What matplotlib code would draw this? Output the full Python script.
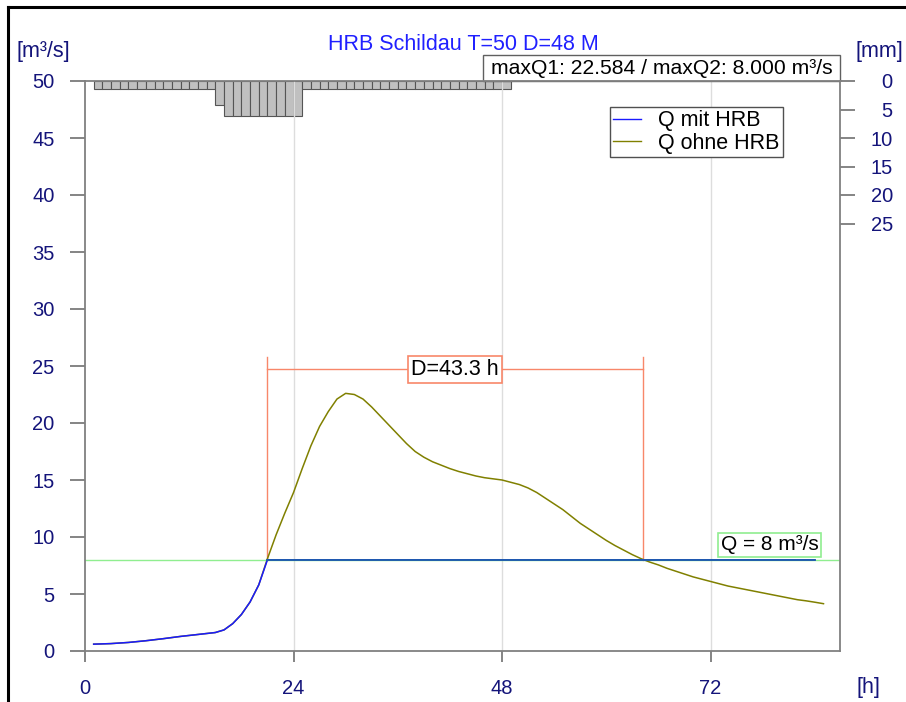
import matplotlib.pyplot as plt
import numpy as np
from matplotlib.lines import Line2D
from matplotlib.patches import Rectangle

# hydrograph
hours = [1, 3, 5, 7, 9, 11, 13, 15, 16, 17, 18, 19, 20, 21, 22, 23, 24, 25, 26, 27,
         28, 29, 30, 31, 32, 33, 34, 35, 36, 37, 38, 39, 40, 41, 42, 43, 44, 45, 46,
         47, 48, 49, 50, 51, 52, 53, 54, 55, 56, 57, 58, 59, 60, 61, 62, 63, 64, 65,
         66, 67, 68, 69, 70, 71, 72, 73, 74, 75, 76, 77, 78, 79, 80, 81, 82, 83, 84, 85]
q_ohne = [0.6, 0.65, 0.75, 0.9, 1.08, 1.28, 1.45, 1.62, 1.85, 2.4, 3.2, 4.3, 5.8, 8.1,
          10.2, 12.1, 13.9, 16.0, 18.0, 19.7, 21.0, 22.1, 22.6, 22.5, 22.1, 21.4, 20.6,
          19.8, 19.0, 18.2, 17.5, 17.0, 16.6, 16.3, 16.0, 15.75, 15.55, 15.35, 15.2,
          15.1, 15.0, 14.8, 14.6, 14.3, 13.9, 13.4, 12.9, 12.4, 11.8, 11.2, 10.7, 10.2,
          9.7, 9.25, 8.85, 8.45, 8.1, 7.8, 7.55, 7.25, 7.0, 6.75, 6.5, 6.3, 6.1, 5.9,
          5.7, 5.55, 5.4, 5.25, 5.1, 4.95, 4.8, 4.65, 4.5, 4.4, 4.28, 4.15]
q_max2 = 8.0
q_max1 = 22.584
d_start = 20.9
d_end = 64.2

# rainfall per hour [mm], hours 1..48
rain_start = list(range(1, 49))
rain_mm = [1.4] * 14 + [4.2] + [6.1] * 9 + [1.4] * 24

hours = np.array(hours)
q_ohne = np.array(q_ohne)
# with the basin: follows the inflow until the throttle, then held at maxQ2
q_mit = np.where(hours < d_start, q_ohne, q_max2)[:-1]
h_mit = hours[:-1]

navy = "#14147a"
fs = 14.5
plt.rcParams["font.family"] = ["Liberation Sans", "DejaVu Sans"]

fig = plt.figure(figsize=(9.06, 7.02), dpi=100)
ax = fig.add_axes([85 / 906, 1 - 651 / 702, 755 / 906, 570 / 702])

for x in [24, 48, 72]:
    ax.axvline(x, color="#dddddd", lw=1, zorder=0)

ax.plot(hours, q_ohne, color="#808000", lw=1.1, zorder=3)
ax.axhline(q_max2, color="#90ee90", lw=1, zorder=2)
ax.plot(h_mit, q_mit, color="#1a1aff", lw=1.1, zorder=4)
flat = np.ma.masked_less(q_mit, q_max2 - 0.01)
ax.plot(h_mit, flat, color="#1f5fa8", lw=1.3, zorder=5)

# duration marker
dc = "#f8876a"
ax.plot([d_start, d_start], [q_max2, 25.8], color=dc, lw=1, zorder=2)
ax.plot([d_end, d_end], [q_max2, 25.8], color=dc, lw=1, zorder=2)
ax.plot([d_start, d_end], [24.7, 24.7], color=dc, lw=1, zorder=2)
ax.text((d_start + d_end) / 2, 24.7, f"D={d_end - d_start:.1f} h", fontsize=15.5,
        ha="center", va="center", zorder=6,
        bbox=dict(boxstyle="square,pad=0.15", fc="white", ec=dc, lw=1.2))

ax.text(78.8, 9.3, f"Q = {q_max2:g} m³/s", fontsize=15, ha="center", va="center",
        zorder=6, bbox=dict(boxstyle="square,pad=0.12", fc="white", ec="#90ee90", lw=1.2))

ax.set_xlim(0, 86.9)
ax.set_ylim(0, 50)
ax.set_xticks([0, 24, 48, 72])
ax.set_yticks(np.arange(0, 51, 5))
ax.tick_params(axis="both", direction="out", colors="#707070", labelcolor=navy,
               labelsize=fs, width=1.2)
ax.tick_params(axis="y", length=11, pad=11)
ax.tick_params(axis="x", length=8, pad=12)
for s in ax.spines.values():
    s.set_color("#808080")
    s.set_linewidth(1.3)

h1, = ax.plot([], [], color="#1a1aff", lw=1)
h2, = ax.plot([], [], color="#808000", lw=1)
leg = ax.legend([h1, h2], ["Q mit HRB", "Q ohne HRB"], loc="upper right",
                bbox_to_anchor=(0.9245, 0.954), borderaxespad=0, fontsize=15.5,
                fancybox=False, framealpha=1, edgecolor="#505050",
                handlelength=1.3, handletextpad=0.8, borderpad=0.15,
                labelspacing=0.05)
leg.get_frame().set_linewidth(1)

# rainfall on the right axis
ax2 = ax.twinx()
ax2.bar(rain_start, rain_mm, width=1, align="edge", color="#c0c0c0",
        edgecolor="#555555", lw=0.8, zorder=3)
ax2.set_ylim(100, 0)
ax2.set_yticks([0, 5, 10, 15, 20, 25])
ax2.tick_params(axis="y", direction="out", colors="#707070", labelcolor=navy,
                labelsize=fs, length=11, width=1.2, pad=27)
for lab in ax2.get_yticklabels():
    lab.set_horizontalalignment("right")
for s in ax2.spines.values():
    s.set_visible(False)
ax.set_zorder(ax2.get_zorder() + 1)
ax.patch.set_visible(False)

# maxQ box above the plot
ax.add_patch(Rectangle((0.527, 1.0), 0.473, 0.0456, transform=ax.transAxes,
                       fc="white", ec="#606060", lw=1, clip_on=False))
ax.text(0.7635, 1.0228, f"maxQ1: {q_max1:.3f} / maxQ2: {q_max2:.3f} m³/s",
        transform=ax.transAxes, fontsize=15.2, ha="center", va="center")

fig.text(463 / 906, 1 - 44 / 702, "HRB Schildau T=50 D=48 M", color="#2020ff",
         fontsize=15.5, ha="center", va="center")
fig.text(43 / 906, 1 - 52 / 702, "[m³/s]", color=navy, fontsize=15.5,
         ha="center", va="center")
fig.text(879 / 906, 1 - 52 / 702, "[mm]", color=navy, fontsize=15.5,
         ha="center", va="center")
fig.text(868 / 906, 1 - 688 / 702, "[h]", color=navy, fontsize=15.5,
         ha="center", va="center")

# window frame
fig.add_artist(Line2D([8 / 906, 8 / 906], [0, 1 - 7 / 702], color="black", lw=2.2))
fig.add_artist(Line2D([8 / 906, 1], [1 - 7 / 702, 1 - 7 / 702], color="black", lw=2.2))

fig.savefig("out.png", dpi=100)
